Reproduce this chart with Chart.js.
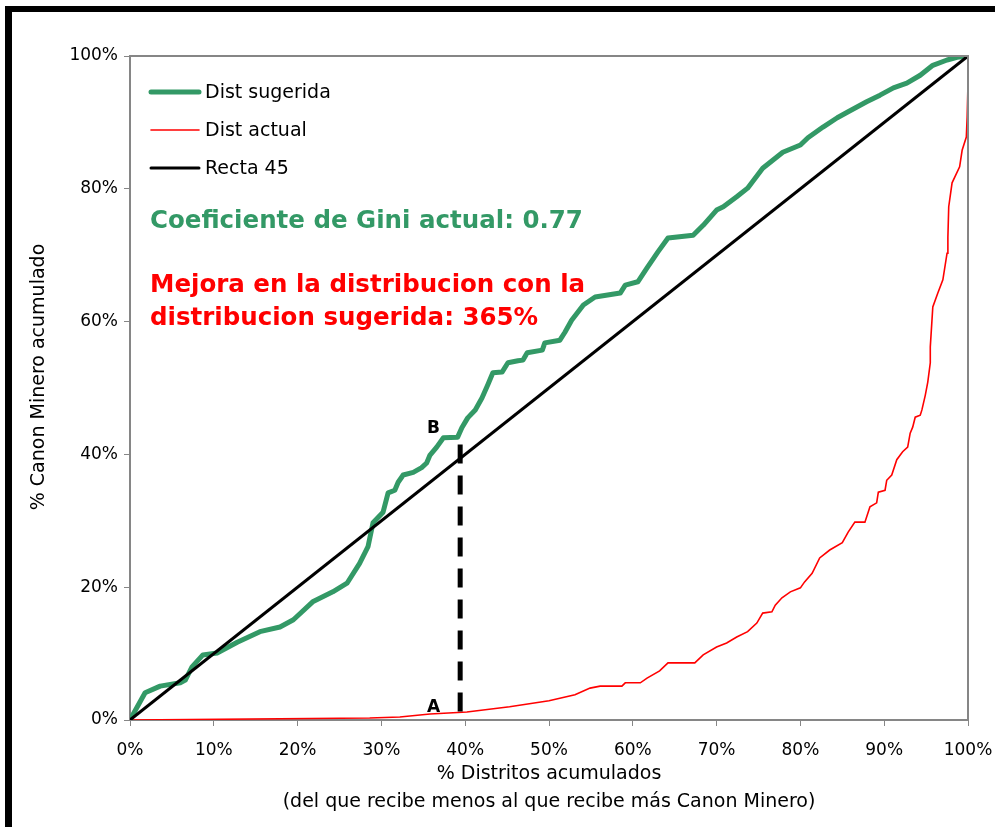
<!DOCTYPE html>
<html>
<head>
<meta charset="utf-8">
<script src="https://cdn.jsdelivr.net/npm/chart.js@4.4.0/dist/chart.umd.min.js"></script>
<style>
  html, body { margin: 0; padding: 0; background: #fff; }
  #wrap { position: relative; width: 995px; height: 827px; overflow: hidden; }
  #frame {
    position: absolute; left: 5px; top: 6px; width: 1100px; height: 900px;
    border-top: 6px solid #000; border-left: 7px solid #000; pointer-events: none;
  }
  canvas { position: absolute; left: 0; top: 0; }
</style>
</head>
<body>
<div id="wrap">
  <canvas id="gini" width="995" height="827"></canvas>
  <div id="frame"></div>
</div>
<script>
/* ---------- Data (% districts, % canon) ---------- */
const sugeridaX = [0, 1.8, 3.6, 6.0, 6.6, 7.4, 8.7, 10.4, 12.8, 15.5, 17.9, 19.5, 21.8, 24.2, 25.9, 27.4, 28.4, 29.0,
  30.2, 30.8, 31.6, 32.0, 32.6, 33.8, 34.8, 35.4, 35.8, 36.6, 37.4, 39.1, 39.6, 40.3, 41.2, 42.0, 42.7, 43.3, 44.4,
  45.1, 46.3, 46.9, 47.4, 49.2, 49.5, 51.3, 51.9, 52.7, 54.1, 55.5, 58.5, 59.1, 60.6, 61.7, 63.0, 64.2, 67.2, 68.4,
  70.0, 70.8, 72.4, 73.7, 75.5, 76.7, 77.9, 80.0, 80.9, 82.7, 84.4, 85.7, 87.9, 89.5, 91.1, 92.7, 94.3, 95.8, 97.5,
  98.7, 100];
const sugeridaY = [0, 4.1, 5.1, 5.6, 6.0, 8.0, 9.8, 10.1, 11.7, 13.3, 14.0, 15.1, 17.8, 19.3, 20.6, 23.6, 26.1, 29.7,
  31.3, 34.2, 34.6, 35.8, 36.9, 37.3, 38.0, 38.7, 39.9, 41.1, 42.5, 42.6, 44.0, 45.5, 46.7, 48.5, 50.5, 52.3, 52.4,
  53.8, 54.1, 54.2, 55.3, 55.7, 56.8, 57.2, 58.4, 60.2, 62.5, 63.7, 64.3, 65.5, 66.0, 68.1, 70.5, 72.6, 73.0, 74.5,
  76.8, 77.3, 78.8, 80.1, 83.1, 84.3, 85.5, 86.6, 87.7, 89.3, 90.7, 91.6, 93.1, 94.1, 95.2, 95.9, 97.1, 98.6, 99.4,
  99.8, 100];

const actualX = [0, 28.6, 32.2, 35.8, 40.2, 45.3, 50.0, 53.1, 54.9, 56.1, 58.7, 59.1, 60.9, 61.7, 63.2, 64.2, 67.4,
  68.4, 70.0, 71.2, 72.4, 73.7, 74.8, 75.5, 76.6, 77.0, 77.8, 78.8, 80.0, 80.5, 81.4, 82.3, 83.5, 85.0, 85.7, 86.5,
  87.7, 88.3, 89.1, 89.3, 90.1, 90.3, 90.9, 91.5, 92.2, 92.8, 93.1, 93.4, 93.7, 94.3, 94.5, 94.9, 95.2, 95.5, 95.5,
  95.8, 96.4, 97.0, 97.5, 97.6, 97.7, 98.1, 99.0, 99.3, 99.8, 99.9, 100, 100];
const actualY = [0, 0.3, 0.45, 0.9, 1.2, 2.0, 2.9, 3.8, 4.8, 5.1, 5.1, 5.6, 5.6, 6.3, 7.4, 8.6, 8.6,
  9.8, 11.0, 11.6, 12.5, 13.3, 14.6, 16.1, 16.3, 17.3, 18.4, 19.3, 19.9, 20.8, 22.1, 24.4, 25.6, 26.7, 28.3, 29.8,
  29.8, 32.1, 32.7, 34.3, 34.6, 36.1, 36.9, 39.2, 40.4, 41.1, 43.2, 44.1, 45.6, 45.9, 46.7, 48.9, 50.9, 53.8, 56.2,
  62.2, 64.3, 66.3, 70.3, 72.7, 77.3, 80.9, 83.3, 85.8, 87.8, 90.8, 95.9, 100];

const rectaX = [0, 100];
const rectaY = [0, 100];

const corteX = [39.4, 39.4];
const corteY = [41.5, 0];

const xTicks = [0, 10, 20, 30, 40, 50, 60, 70, 80, 90, 100];
const yTicks = [0, 20, 40, 60, 80, 100];

const seriesNames = ['Dist sugerida', 'Dist actual', 'Recta 45'];

/* ---------- Helpers ---------- */
function pts(xs, ys) {
  return xs.map((x, i) => ({ x: x, y: ys[i] }));
}

const FONT = "'DejaVu Sans', Verdana, sans-serif";
const GREEN = '#339966';
const RED = '#ff0000';
const AXIS = '#868686';

/* ---------- Plugin: plot border, legend and free text ---------- */
const extrasPlugin = {
  id: 'extras',
  afterDraw(chart) {
    const { ctx, chartArea: a } = chart;
    ctx.save();

    // plot area border (top / right)
    ctx.strokeStyle = AXIS;
    ctx.lineWidth = 2;
    ctx.beginPath();
    ctx.moveTo(a.left, a.top);
    ctx.lineTo(a.right, a.top);
    ctx.lineTo(a.right, a.bottom);
    ctx.stroke();

    // legend
    const sets = chart.data.datasets;
    ctx.font = '19px ' + FONT;
    ctx.textBaseline = 'middle';
    ctx.fillStyle = '#000';
    [92, 130, 168].forEach((ly, i) => {
      const ds = sets[i];
      ctx.strokeStyle = ds.borderColor;
      ctx.lineWidth = ds.borderWidth;
      ctx.lineCap = 'round';
      ctx.beginPath();
      ctx.moveTo(151, ly);
      ctx.lineTo(199, ly);
      ctx.stroke();
      ctx.fillText(seriesNames[i], 205, ly + 1);
    });

    // annotations
    ctx.font = 'bold 24.5px ' + FONT;
    ctx.textBaseline = 'alphabetic';
    ctx.fillStyle = GREEN;
    ctx.fillText('Coeficiente de Gini actual: 0.77', 150, 228);
    ctx.fillStyle = RED;
    ctx.fillText('Mejora en la distribucion con la', 150, 292);
    ctx.fillText('distribucion sugerida: 365%', 150, 325);

    ctx.fillStyle = '#000';
    ctx.font = 'bold 17px ' + FONT;
    ctx.fillText('B', 427, 433);
    ctx.fillText('A', 427, 712);

    // axis titles
    ctx.font = '19px ' + FONT;
    ctx.textAlign = 'center';
    ctx.textBaseline = 'middle';
    ctx.fillText('% Distritos acumulados', 549, 774);
    ctx.fillText('(del que recibe menos al que recibe más Canon Minero)', 549, 802);

    ctx.translate(39, 377);
    ctx.rotate(-Math.PI / 2);
    ctx.fillText('% Canon Minero acumulado', 0, 0);

    ctx.restore();
  }
};

/* ---------- Chart ---------- */
const lineBase = { showLine: true, pointRadius: 0, tension: 0, fill: false };

new Chart(document.getElementById('gini'), {
  type: 'scatter',
  data: {
    datasets: [
      { ...lineBase, label: seriesNames[0], data: pts(sugeridaX, sugeridaY),
        borderColor: GREEN, borderWidth: 5, order: 2, borderJoinStyle: 'round' },
      { ...lineBase, label: seriesNames[1], data: pts(actualX, actualY),
        borderColor: RED, borderWidth: 1.6, order: 3 },
      { ...lineBase, label: seriesNames[2], data: pts(rectaX, rectaY),
        borderColor: '#000', borderWidth: 3, order: 1 },
      { ...lineBase, label: 'corte', data: pts(corteX, corteY),
        borderColor: '#000', borderWidth: 5, borderDash: [19, 12], order: 0 }
    ]
  },
  options: {
    responsive: false,
    animation: false,
    events: [],
    layout: { padding: { top: 56, right: 27, left: 0, bottom: 0 } },
    plugins: { legend: { display: false }, tooltip: { enabled: false } },
    scales: {
      x: {
        type: 'linear', min: 0, max: 100,
        afterFit: s => { s.height = 827 - 720; s.paddingRight = 0; s.paddingLeft = 0; },
        afterBuildTicks: s => { s.ticks = xTicks.map(v => ({ value: v })); },
        border: { color: AXIS, width: 2 },
        grid: { drawOnChartArea: false, drawTicks: true, tickLength: 6, color: AXIS, lineWidth: 1 },
        ticks: { color: '#000', padding: 14, maxRotation: 0, font: { family: FONT, size: 17 },
          callback: v => v + '%' }
      },
      y: {
        type: 'linear', min: 0, max: 100,
        afterFit: s => { s.width = 130; s.paddingTop = 0; s.paddingBottom = 0; },
        afterBuildTicks: s => { s.ticks = yTicks.map(v => ({ value: v })); },
        border: { color: AXIS, width: 2 },
        grid: { drawOnChartArea: false, drawTicks: true, tickLength: 6, color: AXIS, lineWidth: 1 },
        ticks: { color: '#000', padding: 6, font: { family: FONT, size: 17 },
          callback: v => v + '%' }
      }
    }
  },
  plugins: [extrasPlugin]
});
</script>
</body>
</html>
